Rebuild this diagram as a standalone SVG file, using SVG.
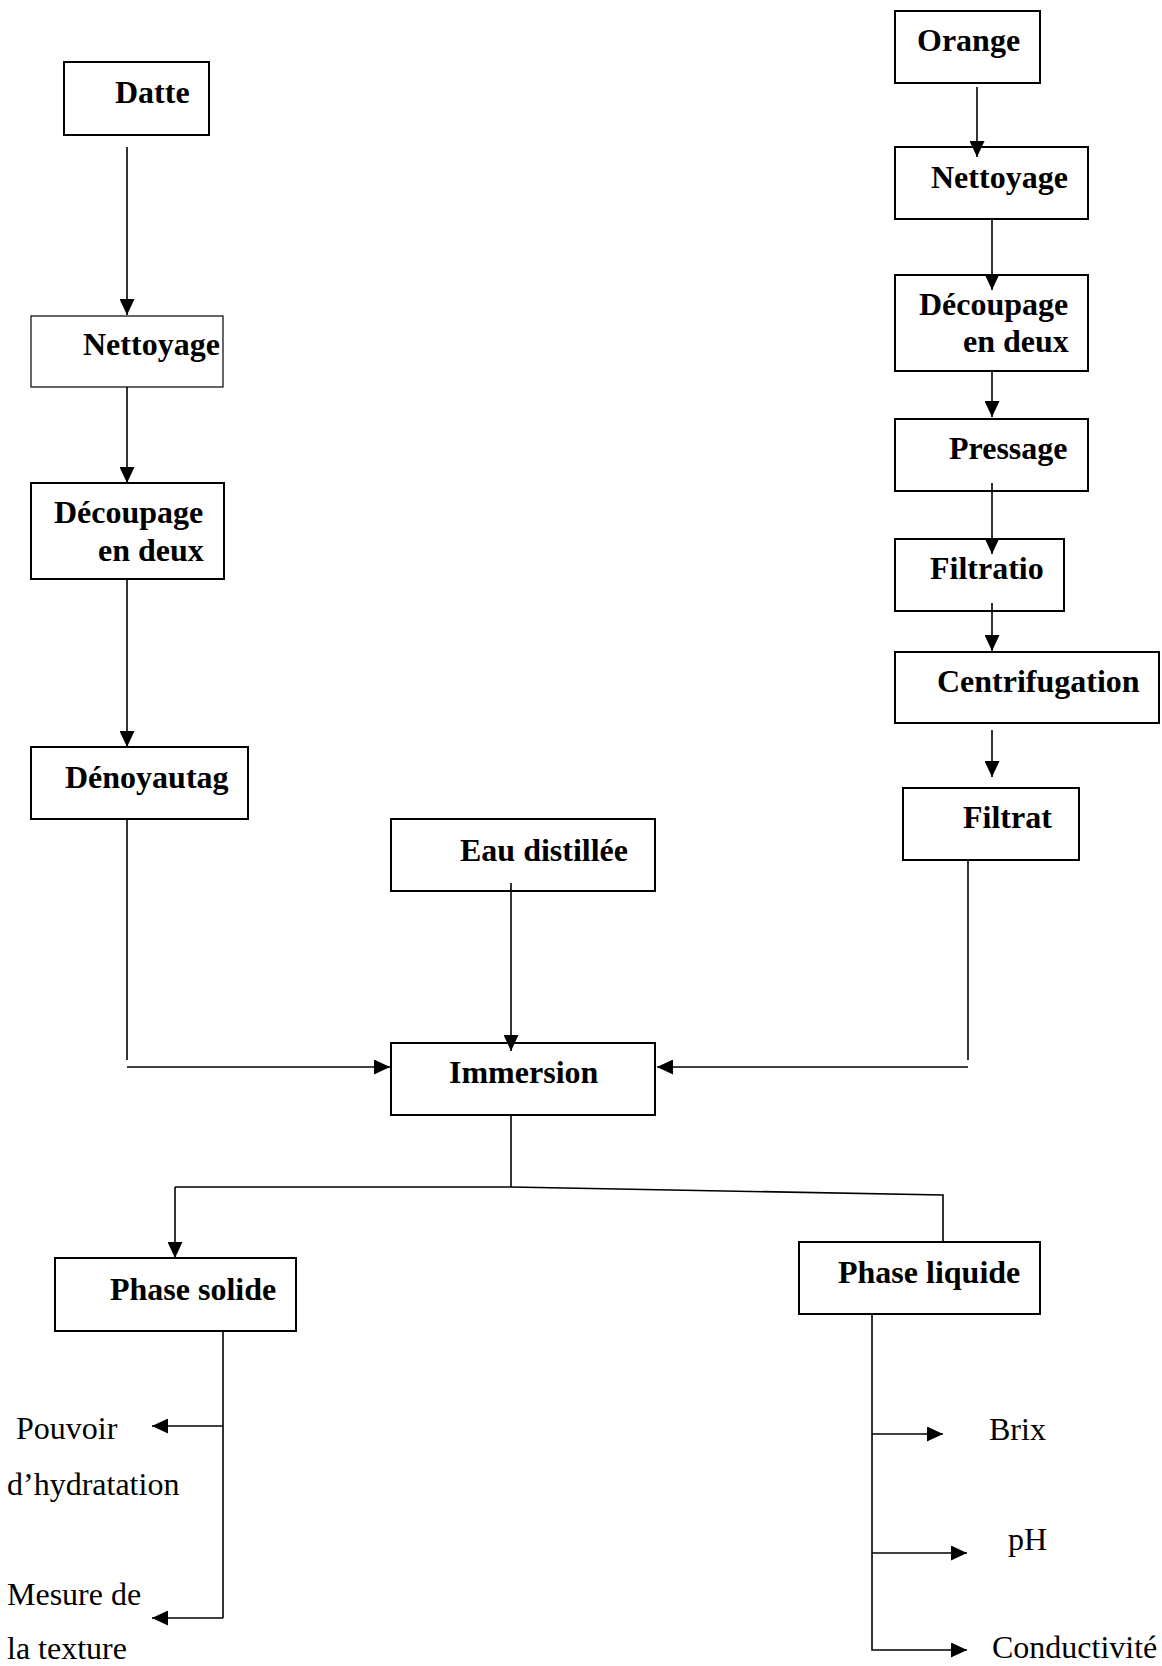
<svg xmlns="http://www.w3.org/2000/svg" width="1162" height="1666" viewBox="0 0 1162 1666">
<style>
.box{fill:#fff;stroke:#000;stroke-width:2}
.thin{stroke-width:1.2}
.b{font-family:"Liberation Serif","Times New Roman",serif;font-weight:bold;font-size:32px;fill:#000}
.r{font-family:"Liberation Serif","Times New Roman",serif;font-size:32px;fill:#000}
.c{fill:none;stroke:#000;stroke-width:1.6}
.a{marker-end:url(#ah)}
</style>
<defs>
<marker id="ah" markerUnits="userSpaceOnUse" markerWidth="16" markerHeight="15" refX="16" refY="7.5" orient="auto" viewBox="0 0 16 15">
<path d="M0,0 L16,7.5 L0,15 z" fill="#000"/>
</marker>
</defs>
<rect width="1162" height="1666" fill="#fff"/>
<g id="datte"><rect class="box" x="64" y="62" width="145" height="73"/><text class="b" x="115" y="103">Datte</text></g>
<g id="nettoyage-l"><rect class="box thin" x="31" y="316" width="192" height="71"/><text class="b" x="83" y="355">Nettoyage</text></g>
<g id="decoupage-l"><rect class="box" x="31" y="483" width="193" height="96"/><text class="b" x="54" y="523">Découpage</text><text class="b" x="98" y="561">en deux</text></g>
<g id="denoyautage"><rect class="box" x="31" y="747" width="217" height="72"/><text class="b" x="65" y="788">Dénoyautag</text></g>
<g id="eau"><rect class="box" x="391" y="819" width="264" height="72"/><text class="b" x="460" y="861">Eau distillée</text></g>
<g id="immersion"><rect class="box" x="391" y="1043" width="264" height="72"/><text class="b" x="449" y="1083">Immersion</text></g>
<g id="orange"><rect class="box" x="895" y="11" width="145" height="72"/><text class="b" x="917" y="51">Orange</text></g>
<g id="nettoyage-r"><rect class="box" x="895" y="147" width="193" height="72"/><text class="b" x="931" y="188">Nettoyage</text></g>
<g id="decoupage-r"><rect class="box" x="895" y="275" width="193" height="96"/><text class="b" x="919" y="315">Découpage</text><text class="b" x="963" y="352">en deux</text></g>
<g id="pressage"><rect class="box" x="895" y="419" width="193" height="72"/><text class="b" x="949" y="459">Pressage</text></g>
<g id="filtratio"><rect class="box" x="895" y="539" width="169" height="72"/><text class="b" x="930" y="579">Filtratio</text></g>
<g id="centrifugation"><rect class="box" x="895" y="652" width="264" height="71"/><text class="b" x="937" y="692">Centrifugation</text></g>
<g id="filtrat"><rect class="box" x="903" y="788" width="176" height="72"/><text class="b" x="963" y="828">Filtrat</text></g>
<g id="phase-solide"><rect class="box" x="55" y="1258" width="241" height="73"/><text class="b" x="110" y="1300">Phase solide</text></g>
<g id="phase-liquide"><rect class="box" x="799" y="1242" width="241" height="72"/><text class="b" x="838" y="1283">Phase liquide</text></g>
<g id="pouvoir"><text class="r" x="16" y="1439">Pouvoir</text><text class="r" x="7" y="1495">d’hydratation</text></g>
<g id="texture"><text class="r" x="7" y="1605">Mesure de</text><text class="r" x="7" y="1659">la texture</text></g>
<g id="brix"><text class="r" x="989" y="1440">Brix</text></g>
<g id="ph"><text class="r" x="1008" y="1550">pH</text></g>
<g id="conductivite"><text class="r" x="992" y="1658">Conductivité</text></g>
<g id="connectors">
<line class="c a" x1="127" y1="147" x2="127" y2="315"/>
<line class="c a" x1="127" y1="387" x2="127" y2="483"/>
<line class="c a" x1="127" y1="579" x2="127" y2="747"/>
<line class="c" x1="127" y1="819" x2="127" y2="1060"/>
<line class="c a" x1="127" y1="1067" x2="390" y2="1067"/>
<line class="c a" x1="511" y1="883" x2="511" y2="1051"/>
<line class="c" x1="968" y1="860" x2="968" y2="1060"/>
<line class="c a" x1="968" y1="1067" x2="657" y2="1067"/>
<line class="c" x1="511" y1="1115" x2="511" y2="1187"/>
<polyline class="c" points="175,1187 511,1187 943,1195 943,1242"/>
<line class="c a" x1="175" y1="1187" x2="175" y2="1258"/>
<line class="c a" x1="977" y1="87" x2="977" y2="157"/>
<line class="c a" x1="992" y1="219" x2="992" y2="290"/>
<line class="c a" x1="992" y1="371" x2="992" y2="417"/>
<line class="c a" x1="992" y1="483" x2="992" y2="554"/>
<line class="c a" x1="992" y1="603" x2="992" y2="651"/>
<line class="c a" x1="992" y1="730" x2="992" y2="777"/>
<line class="c" x1="223" y1="1331" x2="223" y2="1618"/>
<line class="c a" x1="223" y1="1426" x2="152" y2="1426"/>
<line class="c a" x1="223" y1="1618" x2="152" y2="1618"/>
<polyline class="c a" points="872,1314 872,1650 967,1650"/>
<line class="c a" x1="872" y1="1434" x2="943" y2="1434"/>
<line class="c a" x1="872" y1="1553" x2="967" y2="1553"/>
</g>
</svg>
